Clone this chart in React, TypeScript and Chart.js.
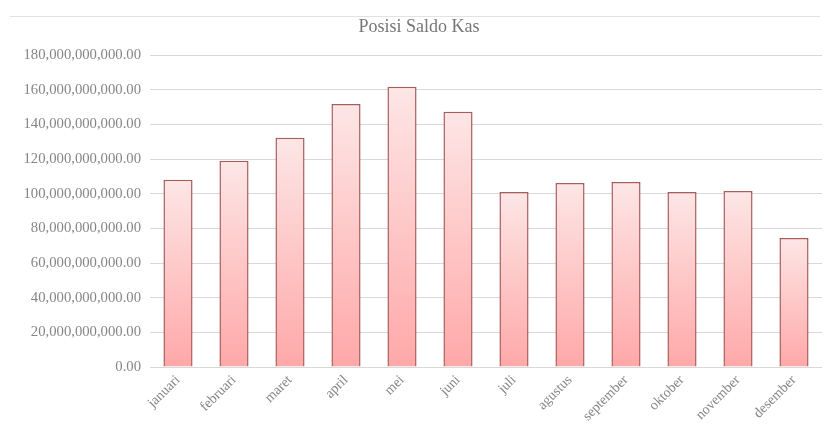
import React, { useEffect, useRef } from 'react';
import { Chart, registerables } from 'chart.js';

Chart.register(...registerables);

const chartTitle = 'Posisi Saldo Kas';
const months = ['januari', 'februari', 'maret', 'april', 'mei', 'juni', 'juli', 'agustus', 'september', 'oktober', 'november', 'desember'];
const saldoKas = [108.0e9, 119.0e9, 132.2e9, 151.7e9, 161.7e9, 147.3e9, 101.0e9, 106.2e9, 106.7e9, 101.0e9, 101.5e9, 74.4e9];
const yMin = 0;
const yMax = 180e9;
const yStep = 20e9;

const FONT = "'Liberation Serif', 'Times New Roman', serif";
const TEXT_COLOR = '#858585';
const CANVAS_W = 825;
const CANVAS_H = 450;

const frameLine = {
  id: 'frameLine',
  beforeDraw(chart: any) {
    const { ctx } = chart;
    ctx.save();
    ctx.strokeStyle = '#e2e2e2';
    ctx.lineWidth = 1;
    ctx.beginPath();
    ctx.moveTo(10, 16.5);
    ctx.lineTo(820, 16.5);
    ctx.stroke();
    ctx.restore();
  },
};

export default function App() {
  const ref = useRef<HTMLCanvasElement | null>(null);

  useEffect(() => {
    if (!ref.current) return;
    const barFill = (context: any) => {
      const chart = context.chart;
      const yScale = chart.scales?.y;
      if (!chart.chartArea || !yScale || context.parsed == null) return '#fdc4c4';
      const top = yScale.getPixelForValue(context.parsed.y);
      const bottom = yScale.getPixelForValue(0);
      if (!isFinite(top) || !isFinite(bottom) || bottom - top < 1) return '#fdc4c4';
      const g = chart.ctx.createLinearGradient(0, top, 0, bottom);
      g.addColorStop(0, '#fde6e6');
      g.addColorStop(1, '#ffa8a8');
      return g;
    };

    const chart = new Chart(ref.current, {
      type: 'bar',
      data: {
        labels: months,
        datasets: [
          {
            label: chartTitle,
            data: saldoKas,
            backgroundColor: barFill,
            borderColor: '#a85d5d',
            borderWidth: 1.5,
            categoryPercentage: 0.52,
            barPercentage: 1,
          },
        ],
      },
      options: {
        responsive: false,
        animation: false,
        devicePixelRatio: 1,
        layout: { padding: { left: 16, right: 3, top: 0, bottom: 0 } },
        plugins: {
          legend: { display: false },
          tooltip: { enabled: false },
          title: {
            display: true,
            text: chartTitle,
            color: '#777777',
            font: { family: FONT, size: 18, weight: 'normal' },
            padding: { top: 16, bottom: 17.4 },
          },
        },
        scales: {
          x: {
            grid: { display: false, drawTicks: false },
            border: { display: false },
            ticks: {
              color: TEXT_COLOR,
              font: { family: FONT, size: 14 },
              maxRotation: 45,
              minRotation: 45,
              padding: 5,
            },
            afterFit: (s: any) => {
              s.height = CANVAS_H - 367;
            },
          },
          y: {
            min: yMin,
            max: yMax,
            grid: { color: '#d9d9d9', drawTicks: false },
            border: { display: false },
            ticks: {
              stepSize: yStep,
              color: TEXT_COLOR,
              font: { family: FONT, size: 14.7 },
              padding: 9,
              callback: (v: any) =>
                Number(v).toLocaleString('en-US', { minimumFractionDigits: 2, maximumFractionDigits: 2 }),
            },
            afterFit: (s: any) => {
              s.width = 134;
            },
          },
        },
      },
      plugins: [frameLine],
    });
    return () => chart.destroy();
  }, []);

  return (
    <div
      style={{
        position: 'absolute',
        left: 0,
        top: 0,
        width: CANVAS_W,
        height: 426,
        overflow: 'hidden',
        background: '#ffffff',
      }}
    >
      <canvas ref={ref} width={CANVAS_W} height={CANVAS_H} style={{ display: 'block' }} />
    </div>
  );
}
